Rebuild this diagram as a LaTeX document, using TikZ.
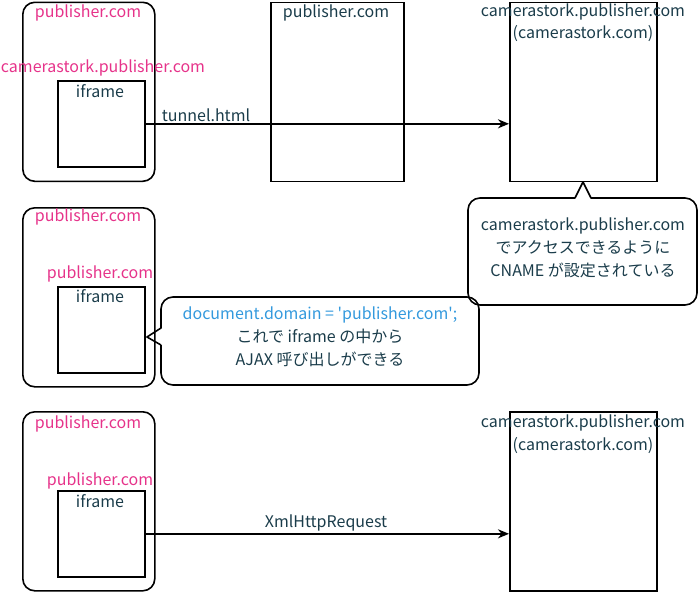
\documentclass[tikz,border=0pt]{standalone}
\usepackage{fontspec}
\setmainfont{Noto Sans CJK JP}
\usetikzlibrary{arrows.meta}
\definecolor{pubpink}{HTML}{E6338A}
\definecolor{jsblue}{HTML}{3399DD}
\definecolor{inkdark}{HTML}{1A3C4A}
\tikzset{
  txt/.style={font=\fontsize{16}{23}\selectfont, text=inkdark, inner sep=0},
  pinktxt/.style={txt, text=pubpink},
  frame/.style={draw, line width=1.6pt, rounded corners=12pt, minimum width=132pt, minimum height=179pt, anchor=north west, inner sep=0},
  ifrbox/.style={draw, line width=1.6pt, minimum width=87pt, minimum height=86pt, anchor=north west, inner sep=0},
  hostbox/.style={draw, line width=1.6pt, minimum height=179pt, anchor=north west, inner sep=0},
  callout/.style={draw, line width=1.6pt, line join=round},
  req/.style={line width=2pt, -{Stealth[length=11pt,width=9pt]}}
}
\begin{document}
\begin{tikzpicture}[x=1pt,y=-1pt]
\useasboundingbox (0,0) rectangle (698,592);
% boxes
\node[frame] (pub1) at (22,1.5) {};
\node[frame] (pub2) at (22,207) {};
\node[frame] (pub3) at (22,411) {};
\node[ifrbox] (ifr1) at (57,80) {};
\node[ifrbox] (ifr2) at (57,286) {};
\node[ifrbox] (ifr3) at (57,490) {};
\node[hostbox, minimum width=133pt] (mid) at (270,1.5) {};
\node[hostbox, minimum width=147pt] (cs1) at (509,1.5) {};
\node[hostbox, minimum width=147pt] (cs3) at (509,411) {};
% row 1
\node[pinktxt] (pub1lbl) at (88,13) {publisher.com};
\node[pinktxt] (ifr1dom) at (103,68) {camerastork.publisher.com};
\node[txt] (ifr1lbl) at (100,91) {iframe};
\node[txt] (midlbl) at (336,13) {publisher.com};
\node[txt] (cs1name) at (583,12) {camerastork.publisher.com};
\node[txt] (cs1alt) at (583,34) {(camerastork.com)};
\draw[req] (ifr1.east) -- (ifr1.east -| cs1.west);
\node[txt] (tunnel) at (206,115) {tunnel.html};
% CNAME callout
\draw[callout] (575,198) -- (583,182) -- (591,198) [rounded corners=12pt] -- (697,198) -- (697,305) -- (468,305) -- (468,198) -- (575,198);
\node[txt, align=center] (cname) at (583,248) {camerastork.publisher.com\\でアクセスできるように\\CNAME が設定されている};
% row 2
\node[pinktxt] (pub2lbl) at (88,217) {publisher.com};
\node[pinktxt] (ifr2dom) at (100,274) {publisher.com};
\node[txt] (ifr2lbl) at (100,296) {iframe};
\draw[callout] (161,345) -- (147,337) -- (161,328) [rounded corners=12pt] -- (161,297) -- (479,297) -- (479,385) -- (161,385) -- (161,345);
\node[txt, align=center] (domain) at (320,337) {\textcolor{jsblue}{document.domain = \textquotesingle publisher.com\textquotesingle;}\\これで iframe の中から\\AJAX 呼び出しができる};
% row 3
\node[pinktxt] (pub3lbl) at (88,424) {publisher.com};
\node[pinktxt] (ifr3dom) at (100,481) {publisher.com};
\node[txt] (ifr3lbl) at (100,501) {iframe};
\node[txt] (cs3name) at (583,423) {camerastork.publisher.com};
\node[txt] (cs3alt) at (583,446) {(camerastork.com)};
\draw[req] (ifr3.east) -- (ifr3.east -| cs3.west);
\node[txt] (xhr) at (326,523) {XmlHttpRequest};
\end{tikzpicture}
\end{document}
